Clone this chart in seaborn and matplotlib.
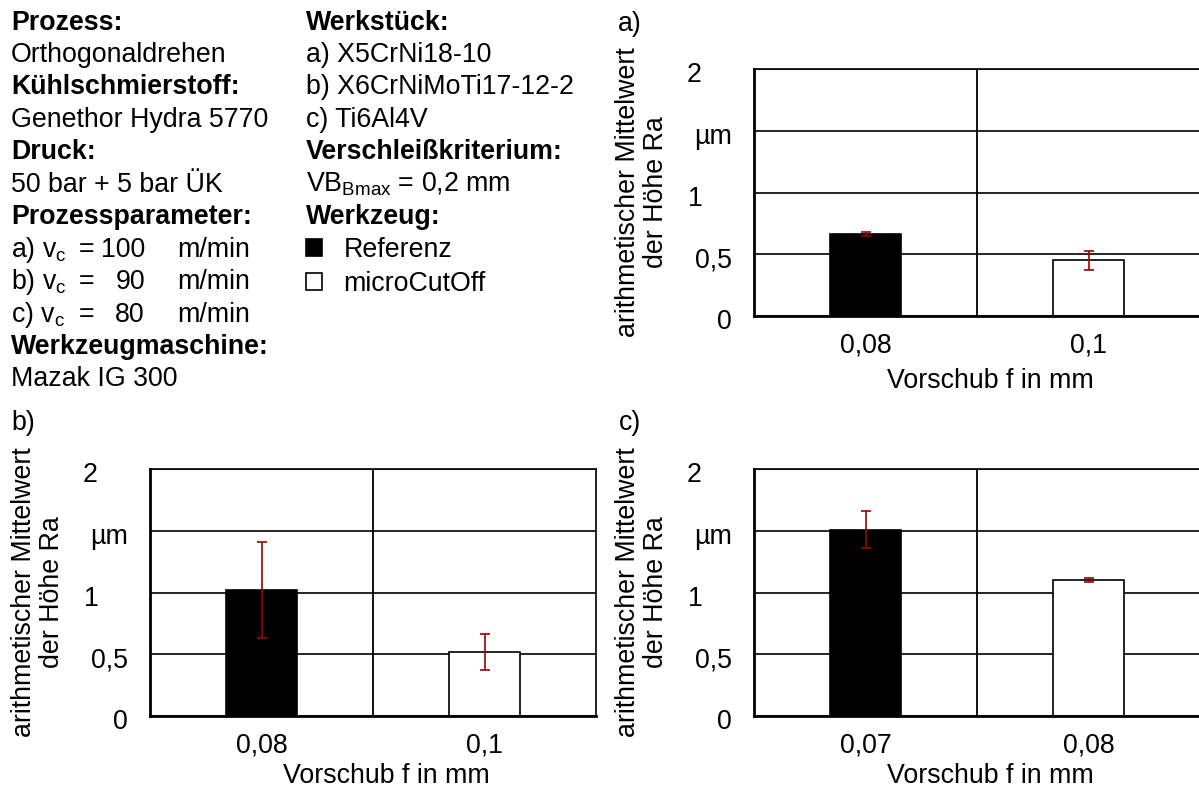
import numpy as np
import pandas as pd
import matplotlib
matplotlib.use("Agg")
import matplotlib.pyplot as plt
from matplotlib.patches import Patch
from matplotlib.transforms import ScaledTranslation
import seaborn as sns

# values (Ra in µm)
tools = ["Referenz", "microCutOff"]
feeds_a = ["0,08", "0,1"]
ra_a = [0.665, 0.45]
err_a = [0.016, 0.08]
feeds_b = ["0,08", "0,1"]
ra_b = [1.02, 0.52]
err_b = [0.385, 0.145]
feeds_c = ["0,07", "0,08"]
ra_c = [1.51, 1.10]
err_c = [0.147, 0.016]

ytick_vals = [0, 0.5, 1, 1.5, 2]
ytick_labels = ["0", "0,5", "1    ", "µm", "2    "]

sns.set_style("white")
plt.rcParams["font.family"] = ["Liberation Sans", "DejaVu Sans"]
plt.rcParams["font.size"] = 19.3
plt.rcParams["text.color"] = "black"
plt.rcParams["axes.labelcolor"] = "black"
plt.rcParams["xtick.color"] = "black"
plt.rcParams["ytick.color"] = "black"
plt.rcParams["mathtext.fontset"] = "custom"
plt.rcParams["mathtext.rm"] = "Liberation Sans"

W, H = 1199, 787
fig = plt.figure(figsize=(W / 100, H / 100), dpi=100)


def fx(px):
    return px / W


def fy(py):
    return 1 - py / H


def panel(left, top, feeds, ra, err, xlab_y):
    ax = fig.add_axes([fx(left), fy(top + 247), fx(446), 247 / H])
    df = pd.DataFrame({"f": feeds, "Ra": ra, "Werkzeug": tools})
    sns.barplot(data=df, x="f", y="Ra", hue="Werkzeug", hue_order=tools,
                palette={"Referenz": "black", "microCutOff": "white"},
                dodge=False, width=0.314, edgecolor="black", linewidth=1.2,
                saturation=1, errorbar=None, legend=False, ax=ax)
    ax.errorbar(x=np.arange(len(feeds)), y=ra, yerr=err, fmt="none",
                ecolor="#a00000", elinewidth=1.2, capsize=3.7, capthick=1.2,
                zorder=5)
    ax.set_xlim(-0.5, 1.5)
    ax.set_ylim(0, 2)
    ax.set_yticks(ytick_vals)
    ax.set_yticklabels(ytick_labels)
    ax.set_xticks([0.5], minor=True)
    ax.set_axisbelow(True)
    ax.yaxis.grid(True, color="black", lw=1.2)
    ax.xaxis.grid(True, which="minor", color="black", lw=1.3)
    ax.xaxis.grid(False, which="major")
    ax.tick_params(axis="both", which="both", length=0)
    ax.tick_params(axis="y", pad=16)
    ax.tick_params(axis="x", pad=12)
    shift = ScaledTranslation(0, -0.03, fig.dpi_scale_trans)
    for lab in ax.get_yticklabels():
        lab.set_transform(lab.get_transform() + shift)
    for side in ["left", "bottom"]:
        ax.spines[side].set_linewidth(2.0)
    for side in ["top", "right"]:
        ax.spines[side].set_linewidth(1.2)
    for side in ax.spines:
        ax.spines[side].set_color("black")
    ax.set_xlabel("Vorschub f in mm")
    ax.set_ylabel("arithmetischer Mittelwert\nder Höhe Ra", linespacing=1.1)
    ax.xaxis.set_label_coords(0.53, xlab_y)
    ax.yaxis.set_label_coords(-0.19, 0.5)
    return ax


panel(754, 69, feeds_a, ra_a, err_a, -0.21)
panel(150, 469, feeds_b, ra_b, err_b, -0.19)
panel(754, 469, feeds_c, ra_c, err_c, -0.19)

fig.text(fx(618), fy(24), "a)", va="center")
fig.text(fx(11), fy(423), "b)", va="center")
fig.text(fx(619), fy(423), "c)", va="center")

# text block with process data
y0, pitch = 22.5, 32.45
col1 = [("Prozess:", True), ("Orthogonaldrehen", False),
        ("Kühlschmierstoff:", True), ("Genethor Hydra 5770", False),
        ("Druck:", True), ("50 bar + 5 bar ÜK", False),
        ("Prozessparameter:", True), (None, False), (None, False), (None, False),
        ("Werkzeugmaschine:", True), ("Mazak IG 300", False)]
for i, (txt, bold) in enumerate(col1):
    if txt:
        fig.text(fx(11), fy(y0 + pitch * i), txt, va="center",
                 fontweight="bold" if bold else "normal")

vc_rows = [("a)", "100"), ("b)", "90"), ("c)", "80")]
for k, (lab, val) in enumerate(vc_rows):
    yy = fy(y0 + pitch * (7 + k))
    fig.text(fx(11), yy, lab + r" v$_\mathregular{c}$", va="center")
    fig.text(fx(79), yy, "=", va="center")
    fig.text(fx(145), yy, val, va="center", ha="right")
    fig.text(fx(177), yy, "m/min", va="center")

col2 = [("Werkstück:", True), ("a) X5CrNi18-10", False),
        ("b) X6CrNiMoTi17-12-2", False), ("c) Ti6Al4V", False),
        ("Verschleißkriterium:", True),
        (r"VB$_\mathregular{Bmax}$ = 0,2 mm", False),
        ("Werkzeug:", True)]
for i, (txt, bold) in enumerate(col2):
    fig.text(fx(306), fy(y0 + pitch * i), txt, va="center",
             fontweight="bold" if bold else "normal")

handles = [Patch(facecolor="black", edgecolor="black", lw=1.2),
           Patch(facecolor="white", edgecolor="black", lw=1.2)]
fig.legend(handles, tools, loc="upper left",
           bbox_to_anchor=(fx(306), fy(y0 + pitch * 7 - 13)),
           frameon=False, borderpad=0, borderaxespad=0,
           handlelength=0.6, handleheight=0.6, handletextpad=0.8,
           labelspacing=0.3)

fig.savefig("out.png", dpi=100)
